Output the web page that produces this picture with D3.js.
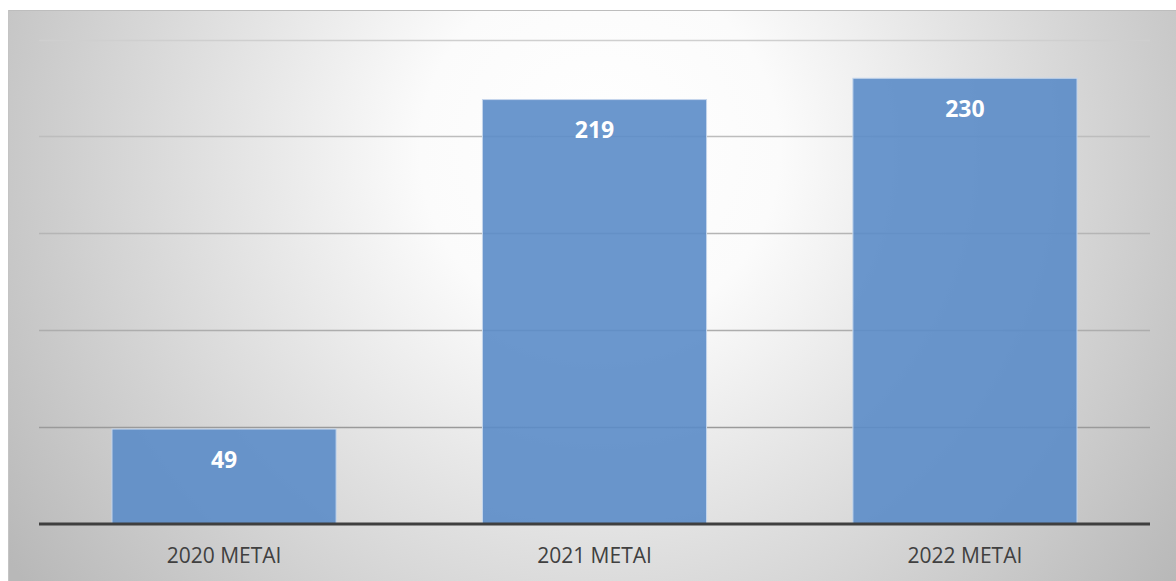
<!DOCTYPE html>
<html><head><meta charset="utf-8">
<script src="https://cdn.jsdelivr.net/npm/d3@7"></script>
<style>html,body{margin:0;padding:0;background:#fff;}svg{display:block;}</style>
</head><body>
<script>
const categories = ["2020 METAI", "2021 METAI", "2022 METAI"];
const values = [49, 219, 230];
const yTicks = [0, 50, 100, 150, 200, 250];

(function () {
const W = 1176, H = 581;
const svg = d3.select("body").append("svg").attr("width", W).attr("height", H);
const defs = svg.append("defs");
const rg = defs.append("radialGradient").attr("id", "bg")
  .attr("gradientUnits", "userSpaceOnUse")
  .attr("cx", 600).attr("cy", 150).attr("r", 720);
rg.append("stop").attr("offset", "0").attr("stop-color", "#ffffff");
rg.append("stop").attr("offset", "0.25").attr("stop-color", "#fbfbfb");
rg.append("stop").attr("offset", "1").attr("stop-color", "#b8b8b8");

svg.append("rect").attr("x", 8).attr("y", 10).attr("width", W - 8).attr("height", H - 10)
  .attr("fill", "url(#bg)");
svg.append("line").attr("x1", 8).attr("x2", W).attr("y1", 10.5).attr("y2", 10.5)
  .attr("stroke", "#bdbdbd").attr("stroke-width", 1);
svg.append("line").attr("x1", 8.5).attr("x2", 8.5).attr("y1", 10).attr("y2", H)
  .attr("stroke", "#c4c4c4").attr("stroke-width", 1);

const pLeft = 39, pRight = 1150, pTop = 39.5, pBottom = 524;
const x = d3.scaleBand().domain(categories).range([pLeft, pRight]).paddingInner(0.395).paddingOuter(0.197);
const y = d3.scaleLinear().domain([0, 250]).range([pBottom, pTop]);

const gridColors = ["#cfcfcf", "#bdbdbd", "#b5b5b5", "#adadad", "#9a9a9a"];
svg.append("g").selectAll("line").data(yTicks.filter(d => d > 0)).join("line")
  .attr("x1", pLeft).attr("x2", pRight)
  .attr("y1", d => Math.round(y(d)) + 0.5).attr("y2", d => Math.round(y(d)) + 0.5)
  .attr("stroke", (d, i) => gridColors[gridColors.length - 1 - i]).attr("stroke-width", 1.5);

svg.append("g").selectAll("rect").data(values).join("rect")
  .attr("x", (d, i) => x(categories[i]))
  .attr("width", x.bandwidth())
  .attr("y", d => y(d))
  .attr("height", d => pBottom - y(d))
  .attr("fill", "#5b8cc8").attr("fill-opacity", 0.9)
  .attr("stroke", "#c5d6ec").attr("stroke-width", 1);

svg.append("g").selectAll("text").data(values).join("text")
  .attr("x", (d, i) => x(categories[i]) + x.bandwidth() / 2)
  .attr("y", d => y(d) + 38.6)
  .attr("text-anchor", "middle")
  .attr("font-family", "'Open Sans', sans-serif").attr("font-weight", "bold")
  .attr("font-size", 23).attr("fill", "#ffffff")
  .text(d => d);

svg.append("line").attr("x1", pLeft).attr("x2", pRight).attr("y1", pBottom).attr("y2", pBottom)
  .attr("stroke", "#3f3f3f").attr("stroke-width", 3);

const xAxis = d3.axisBottom(x).tickSize(0).tickPadding(0);
const gx = svg.append("g").attr("transform", `translate(0,${pBottom})`).call(xAxis);
gx.select(".domain").remove();
gx.selectAll("text").attr("dy", 0).attr("y", 39.3)
  .attr("font-family", "'Open Sans', sans-serif").attr("font-size", 21).attr("fill", "#404040");
})();
</script>
</body></html>
